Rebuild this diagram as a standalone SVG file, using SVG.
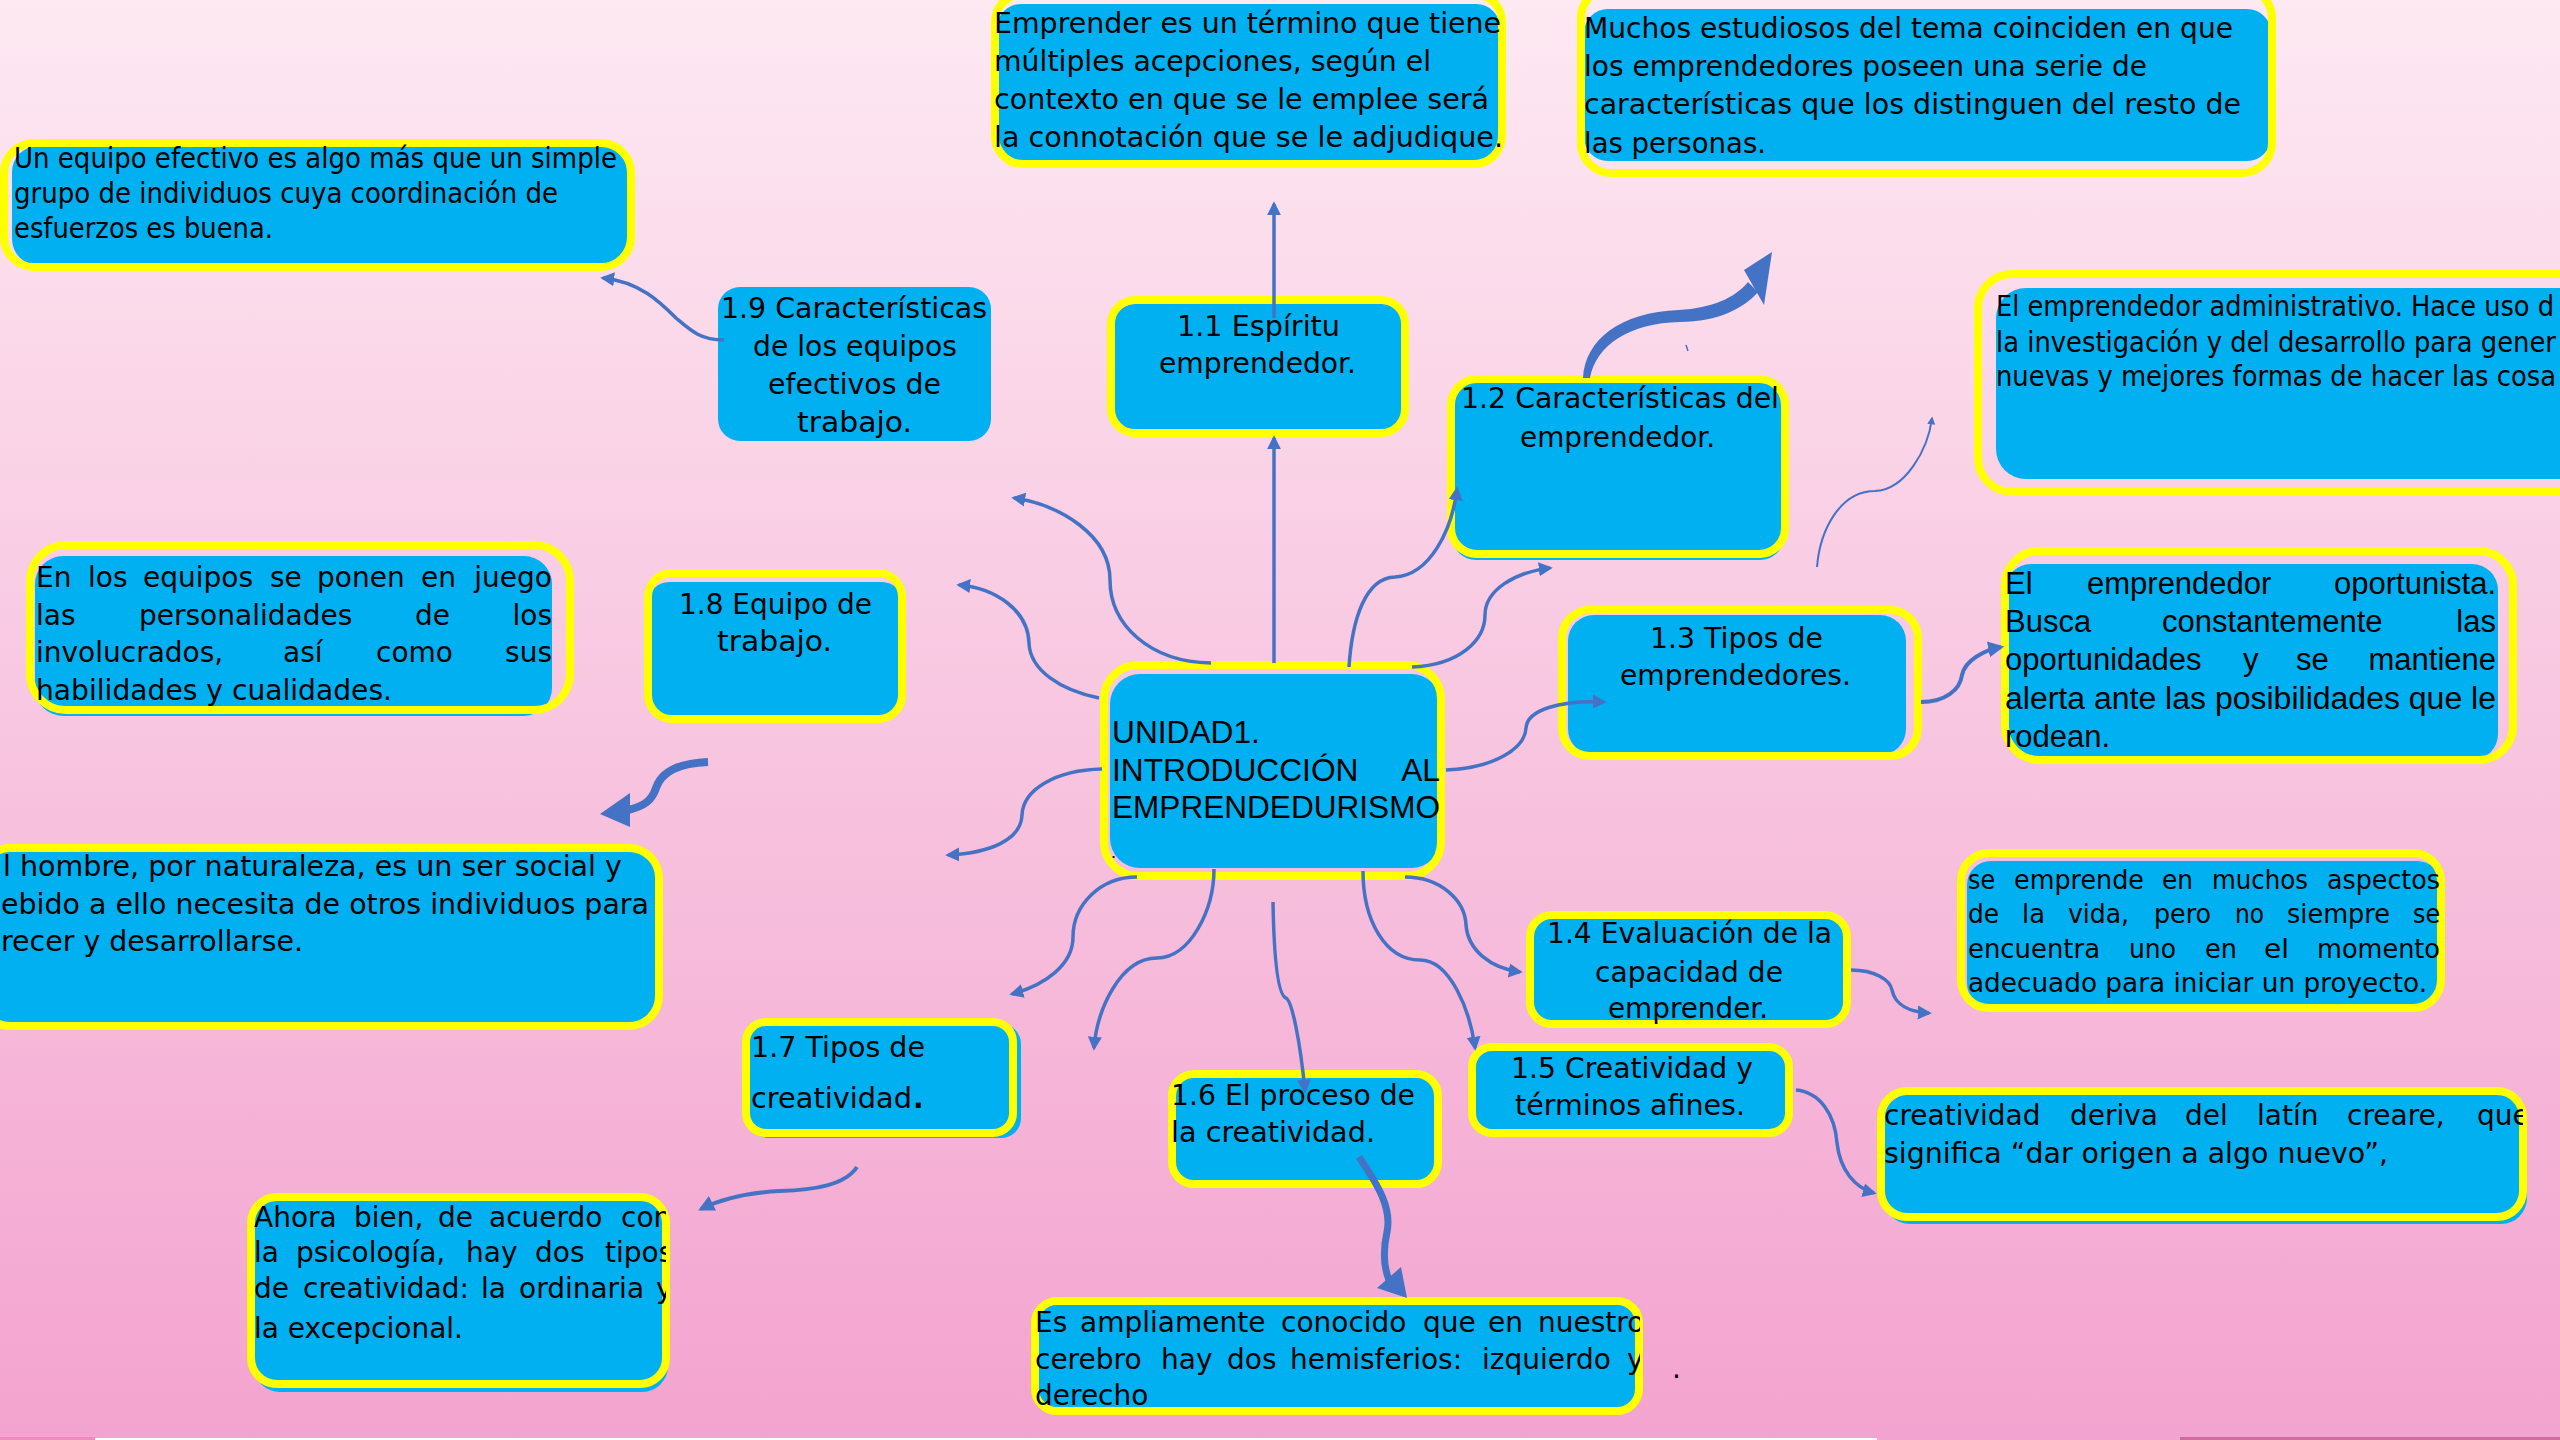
<svg xmlns="http://www.w3.org/2000/svg" width="2560" height="1440" viewBox="0 0 2560 1440">
<defs>
  <linearGradient id="bg" x1="0" y1="0" x2="0" y2="1">
    <stop offset="0" stop-color="#FDE9F2"/>
    <stop offset="0.5" stop-color="#F8C6E0"/>
    <stop offset="1" stop-color="#F3A3CF"/>
  </linearGradient>
  <marker id="ah" viewBox="0 0 10 10" refX="8" refY="5" markerWidth="4" markerHeight="4.5" orient="auto" markerUnits="strokeWidth">
    <path d="M0,0 L10,5 L0,10 z" fill="#4472C4"/>
  </marker>
  <clipPath id="clipAhora"><rect x="254" y="1195" width="412" height="200"/></clipPath>
  <clipPath id="clipEs"><rect x="1035" y="1300" width="605" height="115"/></clipPath>
  <clipPath id="clipCrea"><rect x="1880" y="1090" width="643" height="135"/></clipPath>
</defs>
<style>
  .blue{fill:#00B0F0}
  .yel{fill:none;stroke:#FFFF00;stroke-width:8}
  .t{font-family:"DejaVu Sans",Verdana,sans-serif;font-size:28px;fill:#000}
  .s{font-family:"DejaVu Sans",Verdana,sans-serif;font-size:26px;fill:#000}
  .a{font-family:"Liberation Sans",Arial,sans-serif;fill:#000}
  .c{fill:none;stroke:#4472C4;stroke-width:3.5}
  .f{fill:#4472C4}
</style>

<rect x="0" y="0" width="2560" height="1440" fill="url(#bg)"/>
<rect x="0" y="1437" width="95" height="3" fill="#EE8CC2"/>
<rect x="95" y="1438" width="1782" height="2" fill="#FFFFFF"/>
<rect x="2180" y="1437" width="380" height="3" fill="#CF6AA3"/>

<g id="node-equipo-efectivo">
  <rect class="blue" x="12" y="146" width="616" height="119" rx="26"/>
  <rect class="yel" x="4" y="143" width="627" height="124" rx="30"/>
  <text class="t" font-size="26" x="14" y="168" textLength="603" lengthAdjust="spacingAndGlyphs">Un equipo efectivo es algo más que un simple</text>
  <text class="t" font-size="26" x="14" y="203" textLength="544" lengthAdjust="spacingAndGlyphs">grupo de individuos cuya coordinación de</text>
  <text class="t" font-size="26" x="14" y="238" textLength="259" lengthAdjust="spacingAndGlyphs">esfuerzos es buena.</text>
</g>

<g id="node-1-9">
  <rect class="blue" x="718" y="287" width="273" height="154" rx="22"/>
  <text class="t" font-size="26" x="721" y="318" textLength="266" lengthAdjust="spacingAndGlyphs">1.9 Características</text>
  <text class="t" font-size="26" x="753" y="356" textLength="204" lengthAdjust="spacingAndGlyphs">de los equipos</text>
  <text class="t" font-size="26" x="768" y="394" textLength="173" lengthAdjust="spacingAndGlyphs">efectivos de</text>
  <text class="t" font-size="26" x="797" y="432" textLength="115" lengthAdjust="spacingAndGlyphs">trabajo.</text>
</g>

<g id="node-emprender">
  <rect class="blue" x="997" y="4" width="503" height="157" rx="24"/>
  <rect class="yel" x="995" y="-6" width="507" height="170" rx="28"/>
  <text class="t" x="994" y="33" textLength="507" lengthAdjust="spacingAndGlyphs">Emprender es un término que tiene</text>
  <text class="t" x="994" y="71" textLength="437" lengthAdjust="spacingAndGlyphs">múltiples acepciones, según el</text>
  <text class="t" x="994" y="109" textLength="495" lengthAdjust="spacingAndGlyphs">contexto en que se le emplee será</text>
  <text class="t" x="994" y="147" textLength="509" lengthAdjust="spacingAndGlyphs">la connotación que se le adjudique.</text>
</g>

<g id="node-muchos">
  <rect class="blue" x="1584" y="9" width="687" height="152" rx="24"/>
  <rect class="yel" x="1581" y="-12" width="691" height="185" rx="30"/>
  <text class="t" x="1584" y="38" textLength="649" lengthAdjust="spacingAndGlyphs">Muchos estudiosos del tema coinciden en que</text>
  <text class="t" x="1584" y="76" textLength="563" lengthAdjust="spacingAndGlyphs">los emprendedores poseen una serie de</text>
  <text class="t" x="1584" y="114" textLength="657" lengthAdjust="spacingAndGlyphs">características que los distinguen del resto de</text>
  <text class="t" x="1584" y="153" textLength="182" lengthAdjust="spacingAndGlyphs">las personas.</text>
</g>

<g id="node-1-1">
  <rect class="blue" x="1113" y="304" width="291" height="128" rx="22"/>
  <rect class="yel" x="1111" y="300" width="294" height="133" rx="24"/>
  <text class="t" x="1177" y="336" textLength="163" lengthAdjust="spacingAndGlyphs">1.1 Espíritu</text>
  <text class="t" x="1159" y="373" textLength="197" lengthAdjust="spacingAndGlyphs">emprendedor.</text>
</g>

<g id="node-1-2">
  <rect class="blue" x="1452" y="382" width="332" height="178" rx="24"/>
  <rect class="yel" x="1451" y="379" width="334" height="175" rx="26"/>
  <text class="t" font-size="26" x="1461" y="408" textLength="318" lengthAdjust="spacingAndGlyphs">1.2 Características del</text>
  <text class="t" font-size="26" x="1520" y="447" textLength="195" lengthAdjust="spacingAndGlyphs">emprendedor.</text>
</g>

<g id="node-administrativo">
  <rect class="blue" x="1996" y="288" width="620" height="191" rx="30"/>
  <rect class="yel" x="1978" y="274" width="640" height="218" rx="34"/>
  <text class="t" font-size="26" x="1996" y="316" textLength="558" lengthAdjust="spacingAndGlyphs">El emprendedor administrativo. Hace uso d</text>
  <text class="t" font-size="26" x="1996" y="352" textLength="560" lengthAdjust="spacingAndGlyphs">la investigación y del desarrollo para gener</text>
  <text class="t" font-size="26" x="1996" y="386" textLength="560" lengthAdjust="spacingAndGlyphs">nuevas y mejores formas de hacer las cosa</text>
</g>

<g id="node-oportunista">
  <rect class="blue" x="2005" y="564" width="493" height="196" rx="26"/>
  <rect class="yel" x="2005" y="551" width="508" height="209" rx="34"/>
  <text class="a" font-size="31" y="594"><tspan x="2005">El</tspan><tspan x="2087">emprendedor</tspan><tspan x="2496" text-anchor="end">oportunista.</tspan></text>
  <text class="a" font-size="31" y="632"><tspan x="2005">Busca</tspan><tspan x="2162">constantemente</tspan><tspan x="2496" text-anchor="end">las</tspan></text>
  <text class="a" font-size="31" y="670"><tspan x="2005">oportunidades</tspan><tspan x="2243">y</tspan><tspan x="2296">se</tspan><tspan x="2496" text-anchor="end">mantiene</tspan></text>
  <text class="a" font-size="31" x="2005" y="709" textLength="491" lengthAdjust="spacingAndGlyphs">alerta ante las posibilidades que le</text>
  <text class="a" font-size="31" x="2005" y="747">rodean.</text>
</g>

<g id="node-1-3">
  <rect class="blue" x="1568" y="615" width="338" height="140" rx="26"/>
  <rect class="yel" x="1562" y="610" width="356" height="146" rx="28"/>
  <text class="t" x="1650" y="648" textLength="173" lengthAdjust="spacingAndGlyphs">1.3 Tipos de</text>
  <text class="t" x="1620" y="685" textLength="231" lengthAdjust="spacingAndGlyphs">emprendedores.</text>
</g>

<g id="node-unidad1">
  <rect class="blue" x="1110" y="674" width="331" height="194" rx="30"/>
  <rect class="yel" x="1104" y="665" width="337" height="211" rx="34"/>
  <text class="a" font-size="31.7" x="1112" y="743">UNIDAD1.</text>
  <text class="a" font-size="31.7" y="781"><tspan x="1112">INTRODUCCIÓN</tspan><tspan x="1440" text-anchor="end">AL</tspan></text>
  <text class="a" font-size="31.7" x="1112" y="818" textLength="328" lengthAdjust="spacingAndGlyphs">EMPRENDEDURISMO</text>
  <text class="a" font-size="18" x="1111" y="858">.</text>
</g>

<g id="node-en-los-equipos">
  <rect class="blue" x="35" y="556" width="517" height="160" rx="28"/>
  <rect class="yel" x="30" y="545" width="540" height="165" rx="36"/>
  <text class="t" y="587"><tspan x="36">En</tspan><tspan x="88">los</tspan><tspan x="143">equipos</tspan><tspan x="270">se</tspan><tspan x="317">ponen</tspan><tspan x="421">en</tspan><tspan x="552" text-anchor="end">juego</tspan></text>
  <text class="t" y="625"><tspan x="36">las</tspan><tspan x="139">personalidades</tspan><tspan x="415">de</tspan><tspan x="552" text-anchor="end">los</tspan></text>
  <text class="t" y="662"><tspan x="36">involucrados,</tspan><tspan x="283">así</tspan><tspan x="376">como</tspan><tspan x="552" text-anchor="end">sus</tspan></text>
  <text class="t" x="36" y="700" textLength="356" lengthAdjust="spacingAndGlyphs">habilidades y cualidades.</text>
</g>

<g id="node-1-8">
  <rect class="blue" x="649" y="582" width="253" height="135" rx="20"/>
  <rect class="yel" x="648" y="573" width="254" height="146" rx="24"/>
  <text class="t" x="679" y="614" textLength="193" lengthAdjust="spacingAndGlyphs">1.8 Equipo de</text>
  <text class="t" x="717" y="651" textLength="115" lengthAdjust="spacingAndGlyphs">trabajo.</text>
</g>

<g id="node-hombre">
  <rect class="blue" x="-20" y="850" width="677" height="175" rx="28"/>
  <rect class="yel" x="-20" y="848" width="679" height="178" rx="30"/>
  <text class="t" x="3" y="876" textLength="619" lengthAdjust="spacingAndGlyphs">l hombre, por naturaleza, es un ser social y</text>
  <text class="t" x="1" y="914" textLength="648" lengthAdjust="spacingAndGlyphs">ebido a ello necesita de otros individuos para</text>
  <text class="t" x="1" y="951" textLength="302" lengthAdjust="spacingAndGlyphs">recer y desarrollarse.</text>
</g>

<g id="node-1-4">
  <rect class="blue" x="1533" y="917" width="314" height="106" rx="20"/>
  <rect class="yel" x="1530" y="915" width="317" height="109" rx="22"/>
  <text class="t" x="1547" y="943" textLength="285" lengthAdjust="spacingAndGlyphs">1.4 Evaluación de la</text>
  <text class="t" x="1595" y="982" textLength="188" lengthAdjust="spacingAndGlyphs">capacidad de</text>
  <text class="t" x="1608" y="1018" textLength="160" lengthAdjust="spacingAndGlyphs">emprender.</text>
</g>

<g id="node-se-emprende">
  <rect class="blue" x="1967" y="861" width="474" height="146" rx="24"/>
  <rect class="yel" x="1961" y="853" width="480" height="155" rx="28"/>
  <text class="s" x="1968" y="889" textLength="27" lengthAdjust="spacingAndGlyphs">se</text>
  <text class="s" x="2014" y="889" textLength="130" lengthAdjust="spacingAndGlyphs">emprende</text>
  <text class="s" x="2162" y="889" textLength="31" lengthAdjust="spacingAndGlyphs">en</text>
  <text class="s" x="2212" y="889" textLength="96" lengthAdjust="spacingAndGlyphs">muchos</text>
  <text class="s" x="2327" y="889" textLength="113" lengthAdjust="spacingAndGlyphs">aspectos</text>
  <text class="s" x="1968" y="923" textLength="31" lengthAdjust="spacingAndGlyphs">de</text>
  <text class="s" x="2022" y="923" textLength="23" lengthAdjust="spacingAndGlyphs">la</text>
  <text class="s" x="2068" y="923" textLength="61" lengthAdjust="spacingAndGlyphs">vida,</text>
  <text class="s" x="2154" y="923" textLength="57" lengthAdjust="spacingAndGlyphs">pero</text>
  <text class="s" x="2235" y="923" textLength="29" lengthAdjust="spacingAndGlyphs">no</text>
  <text class="s" x="2287" y="923" textLength="103" lengthAdjust="spacingAndGlyphs">siempre</text>
  <text class="s" x="2413" y="923" textLength="27" lengthAdjust="spacingAndGlyphs">se</text>
  <text class="s" x="1968" y="958" textLength="132" lengthAdjust="spacingAndGlyphs">encuentra</text>
  <text class="s" x="2129" y="958" textLength="47" lengthAdjust="spacingAndGlyphs">uno</text>
  <text class="s" x="2205" y="958" textLength="32" lengthAdjust="spacingAndGlyphs">en</text>
  <text class="s" x="2264" y="958" textLength="25" lengthAdjust="spacingAndGlyphs">el</text>
  <text class="s" x="2317" y="958" textLength="123" lengthAdjust="spacingAndGlyphs">momento</text>
  <text class="s" x="1968" y="992" textLength="459" lengthAdjust="spacingAndGlyphs">adecuado para iniciar un proyecto.</text>
</g>

<g id="node-1-7">
  <rect class="blue" x="749" y="1024" width="272" height="114" rx="20"/>
  <rect class="yel" x="746" y="1022" width="267" height="111" rx="20"/>
  <text class="t" x="751" y="1057" textLength="174" lengthAdjust="spacingAndGlyphs">1.7 Tipos de</text>
  <text class="t" x="751" y="1108" textLength="161" lengthAdjust="spacingAndGlyphs">creatividad</text>
  <text class="t" x="913" y="1108" font-size="34" font-weight="bold">.</text>
</g>

<g id="node-1-6">
  <rect class="blue" x="1173" y="1076" width="265" height="107" rx="20"/>
  <rect class="yel" x="1172" y="1074" width="266" height="110" rx="22"/>
  <text class="t" x="1171" y="1105" textLength="244" lengthAdjust="spacingAndGlyphs">1.6 El proceso de</text>
  <text class="t" x="1171" y="1142" textLength="204" lengthAdjust="spacingAndGlyphs">la creatividad.</text>
</g>

<g id="node-1-5">
  <rect class="blue" x="1473" y="1049" width="317" height="83" rx="18"/>
  <rect class="yel" x="1472" y="1047" width="317" height="86" rx="20"/>
  <text class="t" x="1511" y="1078" textLength="242" lengthAdjust="spacingAndGlyphs">1.5 Creatividad y</text>
  <text class="t" x="1515" y="1115" textLength="230" lengthAdjust="spacingAndGlyphs">términos afines.</text>
</g>

<g id="node-creatividad">
  <rect class="blue" x="1884" y="1094" width="643" height="130" rx="26"/>
  <rect class="yel" x="1881" y="1091" width="642" height="126" rx="26"/>
  <g clip-path="url(#clipCrea)">
    <text class="t" y="1125"><tspan x="1884">creatividad</tspan><tspan x="2070">deriva</tspan><tspan x="2185">del</tspan><tspan x="2257">latín</tspan><tspan x="2347">creare,</tspan><tspan x="2477">que</tspan></text>
  </g>
  <text class="t" x="1884" y="1163" textLength="504" lengthAdjust="spacingAndGlyphs">significa “dar origen a algo nuevo”,</text>
</g>

<g id="node-ahora">
  <rect class="blue" x="254" y="1198" width="414" height="194" rx="26"/>
  <rect class="yel" x="251" y="1197" width="415" height="187" rx="26"/>
  <g clip-path="url(#clipAhora)">
    <text class="t" y="1227"><tspan x="254">Ahora</tspan><tspan x="354">bien,</tspan><tspan x="438">de</tspan><tspan x="489">acuerdo</tspan><tspan x="621">con</tspan></text>
    <text class="t" y="1262"><tspan x="254">la</tspan><tspan x="296">psicología,</tspan><tspan x="466">hay</tspan><tspan x="535">dos</tspan><tspan x="605">tipos</tspan></text>
    <text class="t" y="1298"><tspan x="254">de</tspan><tspan x="303">creatividad:</tspan><tspan x="481">la</tspan><tspan x="519">ordinaria</tspan><tspan x="656">y</tspan></text>
    <text class="t" x="254" y="1338" textLength="209" lengthAdjust="spacingAndGlyphs">la excepcional.</text>
  </g>
</g>

<g id="node-es-ampliamente">
  <rect class="blue" x="1035" y="1303" width="605" height="106" rx="20"/>
  <rect class="yel" x="1035" y="1301" width="604" height="110" rx="22"/>
  <g clip-path="url(#clipEs)">
    <text class="t" y="1332"><tspan x="1035">Es</tspan><tspan x="1080">ampliamente</tspan><tspan x="1281">conocido</tspan><tspan x="1423">que</tspan><tspan x="1488">en</tspan><tspan x="1538">nuestro</tspan></text>
    <text class="t" y="1369"><tspan x="1035">cerebro</tspan><tspan x="1161">hay</tspan><tspan x="1227">dos</tspan><tspan x="1290">hemisferios:</tspan><tspan x="1482">izquierdo</tspan><tspan x="1627">y</tspan></text>
    <text class="t" x="1035" y="1405">derecho</text>
  </g>
  <text class="t" x="1672" y="1378">.</text>
</g>

<g id="connectors">
  <path class="c" marker-end="url(#ah)" d="M724,340 C700,340 690,330 676,318 C660,302 640,282 603,278"/>
  <path class="c" marker-end="url(#ah)" d="M1211,663 C1150,662 1110,625 1110,580 C1110,535 1060,505 1014,498"/>
  <path class="c" marker-end="url(#ah)" d="M1099,698 C1060,690 1030,670 1029,643 C1028,610 995,588 959,585"/>
  <path class="c" marker-end="url(#ah)" d="M1274,663 L1274,438"/>
  <path class="c" marker-end="url(#ah)" d="M1274,318 L1274,204"/>
  <path class="c" marker-end="url(#ah)" d="M1349,667 C1352,620 1365,578 1395,577 C1430,575 1452,530 1457,489"/>
  <path class="c" marker-end="url(#ah)" d="M1412,667 C1460,665 1485,640 1485,615 C1485,590 1515,572 1550,568"/>
  <path class="f" d="M1583,378 C1585,340 1620,312 1679,310 C1712,308 1735,298 1748,282 L1758,292 C1744,308 1718,322 1680,322 C1630,323 1596,345 1590,378 Z"/>
  <path class="f" d="M1772,252 L1744,270 L1764,305 Z"/>
  <path d="M1686,345 L1688,351" stroke="#4472C4" stroke-width="1.5" fill="none"/>
  <path class="c" marker-end="url(#ah)" d="M1446,770 C1495,768 1525,748 1526,728 C1527,710 1560,700 1604,702"/>
  <path class="c" style="stroke-width:4" marker-end="url(#ah)" d="M1921,702 C1945,702 1960,690 1962,675 C1965,660 1985,650 2001,647"/>
  <path class="c" style="stroke-width:2" marker-end="url(#ah)" d="M1817,567 C1820,530 1840,491 1875,491 C1905,490 1928,450 1932,418"/>
  <path class="c" marker-end="url(#ah)" d="M1102,769 C1055,770 1023,790 1022,815 C1021,840 990,853 948,855"/>
  <path class="c" marker-end="url(#ah)" d="M1137,877 C1100,877 1073,905 1073,937 C1073,965 1045,985 1012,994"/>
  <path class="c" marker-end="url(#ah)" d="M1214,869 C1214,910 1190,958 1157,958 C1120,958 1097,1010 1094,1048"/>
  <path class="c" marker-end="url(#ah)" d="M1273,902 C1274,960 1278,995 1286,998 C1292,1001 1300,1040 1305,1091"/>
  <path class="c" marker-end="url(#ah)" d="M1363,871 C1363,920 1385,960 1420,960 C1450,960 1470,1010 1475,1048"/>
  <path class="c" marker-end="url(#ah)" d="M1405,877 C1440,877 1465,900 1466,925 C1468,950 1490,968 1520,972"/>
  <path class="c" marker-end="url(#ah)" d="M1851,970 C1875,970 1890,980 1892,990 C1895,1005 1910,1012 1929,1013"/>
  <path class="c" marker-end="url(#ah)" d="M1796,1090 C1820,1092 1835,1115 1837,1143 C1840,1170 1855,1188 1874,1193"/>
  <path class="c" style="stroke-width:7" d="M1359,1157 C1378,1185 1392,1208 1387,1232 C1383,1250 1383,1265 1389,1280"/>
  <path class="f" d="M1407,1298 L1377,1288 L1401,1267 Z"/>
  <path class="c" style="stroke-width:4" marker-end="url(#ah)" d="M857,1167 C845,1185 815,1190 780,1191 C740,1193 715,1202 701,1209"/>
  <path class="c" style="stroke-width:8" d="M708,762 C682,763 662,770 656,788 C652,800 645,806 628,810"/>
  <path class="f" d="M600,814 L630,793 L630,827 Z"/>
</g>
</svg>
